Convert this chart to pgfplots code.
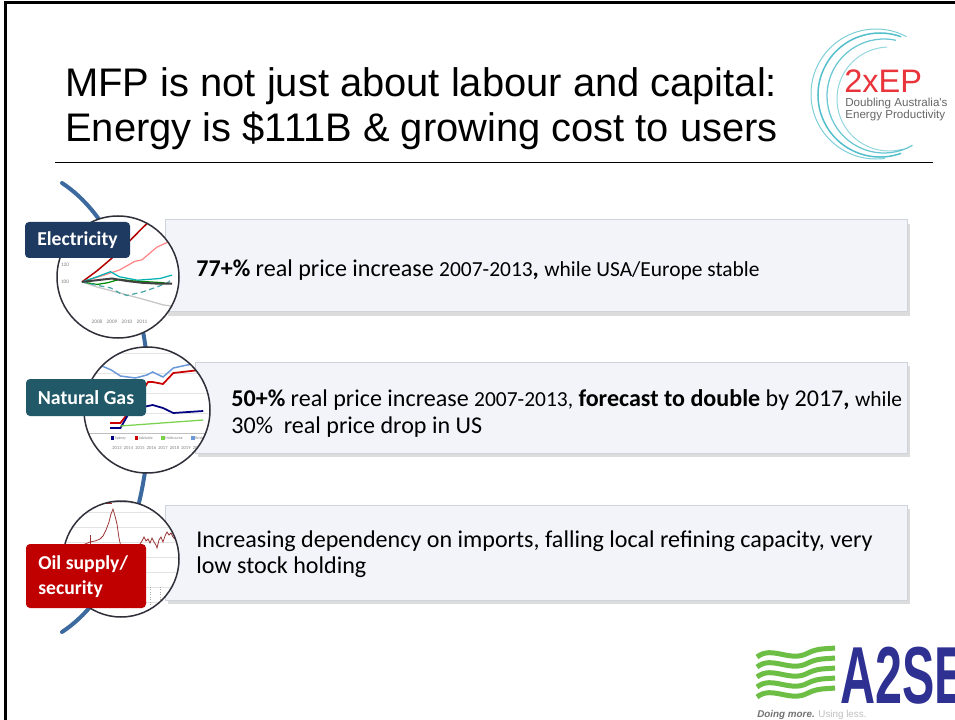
\documentclass[border=0pt]{standalone}
\usepackage{pgfplots}
\pgfplotsset{compat=1.18}
\usepackage{fontspec}
\setmainfont{Carlito}
\newfontfamily\arialf{Liberation Sans}

\definecolor{arcblue}{HTML}{3D6A9E}
\definecolor{boxfill}{HTML}{F2F4FA}
\definecolor{boxline}{HTML}{CFD3DB}
\definecolor{elecnavy}{HTML}{1F3A60}
\definecolor{gasteal}{HTML}{215968}
\definecolor{oilred}{HTML}{C00000}
\definecolor{logoteal}{HTML}{2AAFC0}
\definecolor{logored}{HTML}{E8343A}
\definecolor{asnavy}{HTML}{2E3192}
\definecolor{asgreen}{HTML}{6CBE45}
\definecolor{circline}{HTML}{2F2F3A}

\pgfplotsset{thumb/.style={scale only axis, anchor=south west}}

\begin{document}
\begin{tikzpicture}
\begin{scope}[x=0.2mm,y=-0.2mm]
\path[use as bounding box] (0,0) rectangle (955,720);
\clip (0,0) rectangle (955,720);
\fill[white] (0,0) rectangle (955,720);
% frame
\draw[black, line width=0.6mm] (5,720) -- (5,3) -- (955,3);

% title
\node[anchor=base west, inner sep=0, font=\arialf\fontsize{22.7}{26}\selectfont] at (65,97) {MFP is not just about labour and capital:};
\node[anchor=base west, inner sep=0, font=\arialf\fontsize{22.7}{26}\selectfont] at (65,142) {Energy is \$111B \& growing cost to users};
\draw[black, line width=0.2mm] (55,163) -- (933,163);

% 2xEP logo
\draw[logoteal, line width=0.3mm, opacity=0.8] (880,95) ++(70:62) arc[start angle=70,end angle=290,radius=62];
\draw[logoteal, line width=0.25mm, opacity=0.7] (884,96) ++(60:57) arc[start angle=60,end angle=282,radius=57];
\draw[logoteal, line width=0.2mm, opacity=0.6] (876,94) ++(82:65) arc[start angle=82,end angle=298,radius=65];
\draw[logoteal, line width=0.2mm, opacity=0.5] (889,99) ++(75:52) arc[start angle=75,end angle=268,radius=52];
\node[anchor=base west, inner sep=0, text=logored, font=\arialf\fontsize{18.5}{20}\selectfont] at (844,93) {2xEP};
\node[anchor=base west, inner sep=0, text=gray!80!black, font=\arialf\fontsize{6.6}{8}\selectfont] at (845,107) {Doubling Australia's};
\node[anchor=base west, inner sep=0, text=gray!80!black, font=\arialf\fontsize{6.6}{8}\selectfont] at (845,119) {Energy Productivity};

% A2SE logo
\foreach \yy in {652,662,672,682,692} {
  \draw[asgreen, line width=1.0mm] (757,\yy+5) .. controls (772,\yy-7) and (790,\yy+11) .. (808,\yy+1) .. controls (818,\yy-4) and (826,\yy-3) .. (835,\yy-4);
}
\node[anchor=base west, inner sep=0, text=asnavy, font=\arialf\bfseries\fontsize{46}{50}\selectfont, xscale=0.6] at (840,703) {A2SE};
\node[anchor=base west, inner sep=0, font=\arialf\fontsize{5.6}{6}\selectfont] at (757,717) {\textcolor{gray!90!black}{\textbf{\textit{Doing more.}}} \textcolor{gray!50}{Using less.}};

% blue curve
\draw[arcblue, line width=0.8mm, line cap=round] (62,183) .. controls (179,260) and (179,555) .. (62,632);

% text boxes
\foreach \ya/\yb/\xa in {220/312/165, 362/453/195, 505/600/165} {
  \fill[gray!45, opacity=0.6] (\xa+3,\ya+4) rectangle (910,\yb+4);
  \fill[boxfill, draw=boxline, line width=0.2mm] (\xa,\ya) rectangle (907,\yb);
}
\node[anchor=base west, inner sep=0, font=\fontsize{13.7}{16}\selectfont] at (196,277) {\textbf{77+\%} real price increase {\fontsize{12.2}{14}\selectfont 2007-2013}\textbf{,} {\fontsize{12.2}{14}\selectfont while USA/Europe stable}};
\node[anchor=base west, inner sep=0, font=\fontsize{13.7}{16}\selectfont] at (231,407) {\textbf{50+\%} real price increase {\fontsize{12.2}{14}\selectfont 2007-2013,} \textbf{forecast to double} by 2017\textbf{,} {\fontsize{12.2}{14}\selectfont while}};
\node[anchor=base west, inner sep=0, font=\fontsize{13.7}{16}\selectfont] at (231,433) {30\%\ \ real price drop in US};
\node[anchor=base west, inner sep=0, font=\fontsize{13.7}{16}\selectfont] at (196,547) {Increasing dependency on imports, falling local refining capacity, very};
\node[anchor=base west, inner sep=0, font=\fontsize{13.7}{16}\selectfont] at (196,573) {low stock holding};
\end{scope}

% ---- Electricity thumbnail
\begin{scope}
\clip[x=0.2mm,y=-0.2mm] (118,277) circle[radius=61];
\fill[white, x=0.2mm,y=-0.2mm] (118,277) circle[radius=61];
\begin{axis}[thumb, at={(11.3mm,-67.6mm)}, width=24.6mm, height=24.48mm,
  xmin=2005.3, xmax=2013.5, ymin=34, ymax=178, hide axis]
\addplot[no marks, color=gray!45, line width=0.25mm] coordinates {(2007,100)(2008,94)(2009.5,87)(2011,80)(2012.4,73)(2013.5,70)};
\addplot[no marks, color=red!30!pink, line width=0.25mm] coordinates {(2007,100)(2008.3,107)(2009.5,114)(2010.5,124)(2011,126)(2012,141)(2013,149)};
\addplot[no marks, color=red!70!black, line width=0.3mm] coordinates {(2007,100)(2008,113)(2009,128)(2010,145)(2011,163)(2012,180)(2012.5,190)};
\addplot[no marks, color=teal!60!cyan, line width=0.25mm] coordinates {(2007,100)(2008,106)(2008.9,112)(2009.5,106)(2010.7,102)(2012.2,104)(2013,108)};
\addplot[no marks, color=green!55!black, line width=0.25mm] coordinates {(2007,100)(2008,97)(2008.7,99)(2009.5,103)(2010.5,101)(2011.5,100)(2012.5,99)};
\addplot[no marks, color=teal!70, densely dashed, line width=0.25mm] coordinates {(2007,100)(2008,96)(2008.9,93)(2009.5,87)(2010,84)(2011,88)(2012,94)(2012.8,100)(2013,104)};
\addplot[no marks, color=black!75, line width=0.4mm] coordinates {(2007,100)(2008,102)(2009,104)(2010,101)(2011,99)(2012,98)(2013,98)};
\node[text=gray, font=\fontsize{3}{3}\selectfont] at (axis cs:2005.87,120) {120};
\node[text=gray, font=\fontsize{3}{3}\selectfont] at (axis cs:2005.87,100) {100};
\node[text=gray, font=\fontsize{3}{3}\selectfont] at (axis cs:2008,53) {2008};
\node[text=gray, font=\fontsize{3}{3}\selectfont] at (axis cs:2009,53) {2009};
\node[text=gray, font=\fontsize{3}{3}\selectfont] at (axis cs:2010,53) {2010};
\node[text=gray, font=\fontsize{3}{3}\selectfont] at (axis cs:2011,53) {2011};
\end{axis}
\end{scope}
\draw[circline, line width=0.3mm, x=0.2mm,y=-0.2mm] (118,277) circle[radius=61];

% ---- Natural gas thumbnail
\begin{scope}
\clip[x=0.2mm,y=-0.2mm] (147,410) circle[radius=63];
\fill[white, x=0.2mm,y=-0.2mm] (147,410) circle[radius=63];
\begin{axis}[thumb, at={(16.8mm,-94.6mm)}, width=25.2mm, height=25.2mm,
  xmin=2010.13, xmax=2021.09, ymin=0, ymax=12.6,
  axis line style={draw=none}, tick style={draw=none}, xtick=\empty,
  ytick={4,6,8,10,12}, yticklabels={}, ymajorgrids, grid style={gray!20, line width=0.1mm}]
\addplot[no marks, color=gray!50, line width=0.15mm] coordinates {(2010.13,4)(2021.09,4)};
\addplot[no marks, color=cyan!50!blue!60, line width=0.3mm] coordinates {(2011.5,10.8)(2012.5,10.3)(2013.3,9.7)(2014.6,9.5)(2015.6,9.8)(2016.1,10.1)(2017,9.6)(2017.9,10.5)(2019.1,10.8)(2020.2,11.0)(2021.1,11.1)};
\addplot[no marks, color=red!80!black, line width=0.35mm] coordinates {(2012.4,5.0)(2013.3,5.0)(2013.9,5.9)(2015.7,9.1)(2016.1,9.1)(2017,8.9)(2017.9,10.0)(2020.2,10.3)(2021.1,10.4)};
\addplot[no marks, color=blue!50!black, line width=0.35mm] coordinates {(2012.4,4.5)(2013.3,4.5)(2014.1,6.1)(2015.3,6.6)(2016.1,6.8)(2017,6.5)(2017.9,6.0)(2020.5,6.2)};
\addplot[no marks, color=green!50!olive!70, line width=0.25mm] coordinates {(2013.3,4.7)(2020.5,5.3)};
\addplot[only marks, mark=square*, mark size=0.25mm, color=blue!50!black] coordinates {(2012.6,3.5)};
\addplot[only marks, mark=square*, mark size=0.25mm, color=red!80!black] coordinates {(2014.7,3.5)};
\addplot[only marks, mark=square*, mark size=0.25mm, color=green!50!olive!70] coordinates {(2017,3.5)};
\addplot[only marks, mark=square*, mark size=0.25mm, color=cyan!50!blue!60] coordinates {(2019.6,3.5)};
\node[anchor=west, inner sep=0.5pt, text=gray, font=\fontsize{2.2}{2.2}\selectfont] at (axis cs:2012.7,3.5) {Sydney};
\node[anchor=west, inner sep=0.5pt, text=gray, font=\fontsize{2.2}{2.2}\selectfont] at (axis cs:2014.8,3.5) {Adelaide};
\node[anchor=west, inner sep=0.5pt, text=gray, font=\fontsize{2.2}{2.2}\selectfont] at (axis cs:2017.1,3.5) {Melbourne};
\node[anchor=west, inner sep=0.5pt, text=gray, font=\fontsize{2.2}{2.2}\selectfont] at (axis cs:2019.7,3.5) {Brisbane};
\node[text=gray, font=\fontsize{2.6}{2.6}\selectfont] at (axis cs:2013,2.5) {2013};
\node[text=gray, font=\fontsize{2.6}{2.6}\selectfont] at (axis cs:2014,2.5) {2014};
\node[text=gray, font=\fontsize{2.6}{2.6}\selectfont] at (axis cs:2015,2.5) {2015};
\node[text=gray, font=\fontsize{2.6}{2.6}\selectfont] at (axis cs:2016,2.5) {2016};
\node[text=gray, font=\fontsize{2.6}{2.6}\selectfont] at (axis cs:2017,2.5) {2017};
\node[text=gray, font=\fontsize{2.6}{2.6}\selectfont] at (axis cs:2018,2.5) {2018};
\node[text=gray, font=\fontsize{2.6}{2.6}\selectfont] at (axis cs:2019,2.5) {2019};
\node[text=gray, font=\fontsize{2.6}{2.6}\selectfont] at (axis cs:2020,2.5) {2020};
\end{axis}
\end{scope}
\draw[circline, line width=0.3mm, x=0.2mm,y=-0.2mm] (147,410) circle[radius=63];

% ---- Oil thumbnail
\begin{scope}
\clip[x=0.2mm,y=-0.2mm] (121,559) circle[radius=58];
\fill[white, x=0.2mm,y=-0.2mm] (121,559) circle[radius=58];
\begin{axis}[thumb, at={(12.6mm,-123.4mm)}, width=23.2mm, height=23.2mm,
  xmin=0, xmax=116, ymin=0, ymax=116,
  axis line style={draw=none}, tick style={draw=none}, xtick=\empty,
  ytick={15,30,45,60,75,90,105}, yticklabels={}, ymajorgrids, grid style={gray!22, line width=0.1mm}]
\addplot[no marks, color=red!50!black!80, line width=0.15mm] coordinates {
(2,68)(7,69)(12,71)(17,70)(22,73)(27,75)(32,76)(37,78)(40,81)(43,87)(46,95)(48,103)(50,108)
(52,101)(54,93)(56,79)(58,70)(62,67)(67,69)(72,71)(77,73)(79,76)(81,80)(83,76)(85,78)(87,74)
(89,79)(91,75)(93,72)(94,69)(96,77)(98,80)(100,75)(102,81)(104,85)(106,82)(108,84)(110,80)
(112,78)(114,76)(116,69)};
\addplot[no marks, color=red!50!black!80, line width=0.12mm] coordinates {(27,64)(27,82)};
\addplot[no marks, color=gray!70, densely dotted, line width=0.15mm] coordinates {(87,12)(87,32)};
\addplot[no marks, color=gray!70, densely dotted, line width=0.15mm] coordinates {(97,12)(97,32)};
\addplot[no marks, color=red!50!black!80, line width=0.15mm] coordinates {(43,114)(49,114)};
\node[anchor=west, inner sep=0.5pt, text=gray, font=\fontsize{2.2}{2.2}\selectfont] at (axis cs:49,114) {Brent Average};
\end{axis}
\end{scope}
\draw[circline, line width=0.3mm, x=0.2mm,y=-0.2mm] (121,559) circle[radius=58];

% labels
\begin{scope}[x=0.2mm,y=-0.2mm]
\fill[elecnavy, rounded corners=0.8mm] (25,222) rectangle (130,258);
\node[text=white, font=\bfseries\fontsize{11.2}{13}\selectfont] at (77.5,240) {Electricity};
\fill[gasteal, rounded corners=0.8mm] (26,379) rectangle (146,416);
\node[text=white, font=\bfseries\fontsize{11.3}{13}\selectfont] at (86,397.5) {Natural Gas};
\fill[oilred, rounded corners=0.8mm] (26,544) rectangle (146,608);
\node[anchor=base west, inner sep=0, text=white, font=\bfseries\fontsize{11.2}{13}\selectfont] at (38,569) {Oil supply/};
\node[anchor=base west, inner sep=0, text=white, font=\bfseries\fontsize{11.2}{13}\selectfont] at (38,594) {security};
\end{scope}
\end{tikzpicture}
\end{document}
